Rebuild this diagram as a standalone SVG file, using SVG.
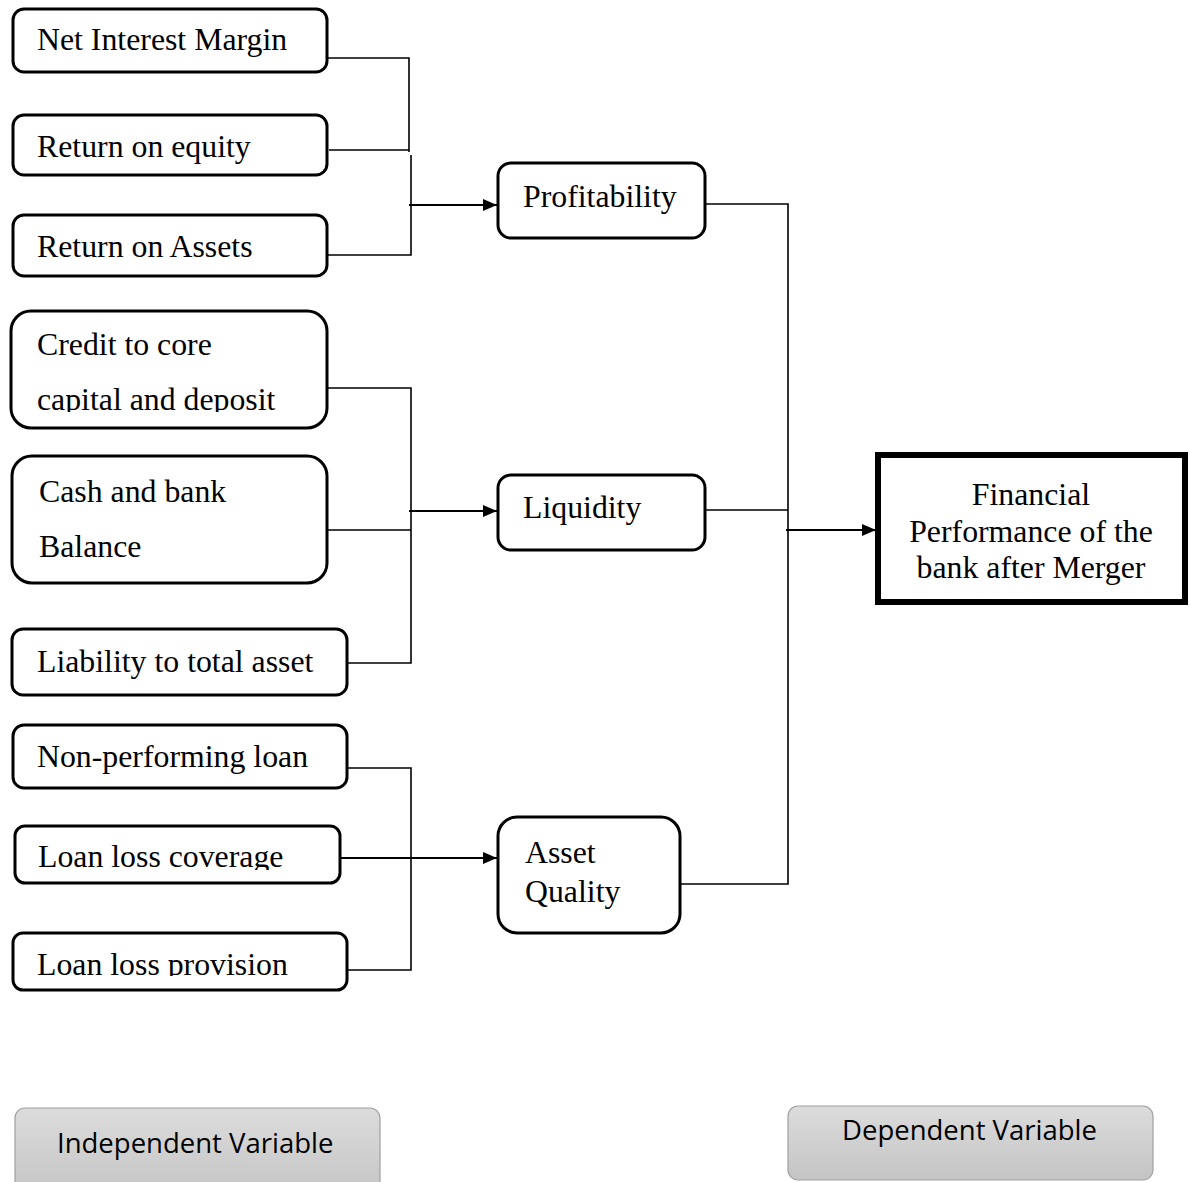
<svg xmlns="http://www.w3.org/2000/svg" width="1190" height="1182" viewBox="0 0 1190 1182">
<defs>
<style>
.box{fill:#fff;stroke:#000;stroke-width:3}
.t{font-family:"Liberation Serif","Times New Roman",serif;font-size:31.8px;fill:#000}
.tc{font-family:"Liberation Serif","Times New Roman",serif;font-size:31.8px;fill:#000;text-anchor:middle}
.conn{fill:none;stroke:#000;stroke-width:1.6}
.arr{fill:none;stroke:#000;stroke-width:2}
.leg{stroke:#a0a0a0;stroke-width:1.2;fill:url(#g)}
.lt{font-family:"Open Sans","Noto Sans","Liberation Sans",sans-serif;font-size:27.5px;fill:#000}
</style>
<linearGradient id="g" x1="0" y1="0" x2="0" y2="1">
<stop offset="0" stop-color="#dcdcdc"/>
<stop offset="1" stop-color="#c4c4c4"/>
</linearGradient>
<marker id="ah" viewBox="0 0 14 12" refX="14" refY="6" markerWidth="14" markerHeight="12" markerUnits="userSpaceOnUse" orient="auto">
<path d="M0,0 L14,6 L0,12 z" fill="#000"/>
</marker>
<clipPath id="c4"><rect x="10" y="310" width="317" height="102"/></clipPath>
<clipPath id="c8"><rect x="15" y="825" width="325" height="45"/></clipPath>
<clipPath id="c9"><rect x="13" y="933" width="334" height="43"/></clipPath>
</defs>

<g id="connectors">
<path class="conn" d="M327,58 H409 V152"/>
<path class="conn" d="M329,150 H409"/>
<path class="conn" d="M411,155 V255 H327"/>
<path class="arr" d="M409,205 H497" marker-end="url(#ah)"/>
<path class="conn" d="M327,388 H411 V663 H347"/>
<path class="conn" d="M327,530 H411"/>
<path class="arr" d="M409,511 H497" marker-end="url(#ah)"/>
<path class="conn" d="M347,768 H411 V970 H347"/>
<path class="arr" d="M340,858 H497" marker-end="url(#ah)"/>
<path class="conn" d="M705,204 H788 V884 H680"/>
<path class="conn" d="M705,510 H788"/>
<path class="arr" d="M786,530 H876" marker-end="url(#ah)"/>
</g>

<g id="n-nim"><rect class="box" x="13" y="9" width="314" height="63" rx="11"/><text class="t" x="37" y="50">Net Interest Margin</text></g>
<g id="n-roe"><rect class="box" x="13" y="115" width="314" height="60" rx="11"/><text class="t" x="37" y="157">Return on equity</text></g>
<g id="n-roa"><rect class="box" x="13" y="215" width="314" height="61" rx="11"/><text class="t" x="37" y="257">Return on Assets</text></g>

<g id="n-credit"><rect class="box" x="11" y="311" width="316" height="117" rx="20"/><g clip-path="url(#c4)"><text class="t" x="37" y="355">Credit to core</text><text class="t" x="37" y="410">capital and deposit</text></g></g>
<g id="n-cash"><rect class="box" x="12" y="456" width="315" height="127" rx="20"/><text class="t" x="39" y="502">Cash and bank</text><text class="t" x="39" y="557">Balance</text></g>
<g id="n-liab"><rect class="box" x="12" y="629" width="335" height="66" rx="11"/><text class="t" x="37" y="672">Liability to total asset</text></g>

<g id="n-npl"><rect class="box" x="13" y="725" width="334" height="63" rx="11"/><text class="t" x="37" y="767">Non-performing loan</text></g>
<g id="n-llc"><rect class="box" x="15" y="826" width="325" height="57" rx="10"/><g clip-path="url(#c8)"><text class="t" x="38" y="867">Loan loss coverage</text></g></g>
<g id="n-llp"><rect class="box" x="13" y="933" width="334" height="57" rx="10"/><g clip-path="url(#c9)"><text class="t" x="37" y="975">Loan loss provision</text></g></g>

<g id="n-prof"><rect class="box" x="498" y="163" width="207" height="75" rx="13"/><text class="t" x="523" y="207">Profitability</text></g>
<g id="n-liq"><rect class="box" x="498" y="475" width="207" height="75" rx="13"/><text class="t" x="523" y="518">Liquidity</text></g>
<g id="n-aq"><rect class="box" x="498" y="817" width="182" height="116" rx="19"/><text class="t" x="525" y="863">Asset</text><text class="t" x="525" y="902">Quality</text></g>

<g id="n-fin"><rect x="878" y="455" width="307" height="147" fill="#fff" stroke="#000" stroke-width="6"/><text class="tc" x="1031" y="505">Financial</text><text class="tc" x="1031" y="542">Performance of the</text><text class="tc" x="1031" y="578">bank after Merger</text></g>

<g id="legend-indep"><rect class="leg" x="15" y="1108" width="365" height="90" rx="10"/><text class="lt" x="57" y="1153">Independent Variable</text></g>
<g id="legend-dep"><rect class="leg" x="788" y="1106" width="365" height="74" rx="10"/><text class="lt" x="842" y="1140">Dependent Variable</text></g>
</svg>
